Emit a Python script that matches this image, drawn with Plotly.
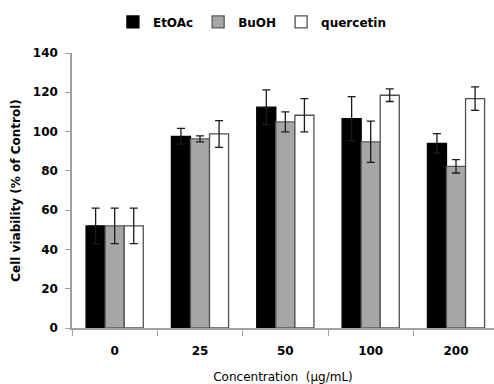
import plotly.graph_objects as go

categories = ["0", "25", "50", "100", "200"]
etoac = [52, 97.6, 112.4, 106.6, 94.0]
etoac_err = [9, 4, 8.8, 11.2, 5]
buoh = [52, 96.3, 104.9, 94.8, 82.3]
buoh_err = [9, 1.5, 5.1, 10.5, 3.4]
quercetin = [52, 98.8, 108.3, 118.5, 116.8]
quercetin_err = [9, 6.8, 8.5, 3.2, 6]
y_ticks = [0, 20, 40, 60, 80, 100, 120, 140]

fig = go.Figure()
series = [
    ("EtOAc", etoac, etoac_err, "#000000", "#000000"),
    ("BuOH", buoh, buoh_err, "#a6a6a6", "#5a5a5a"),
    ("quercetin", quercetin, quercetin_err, "#ffffff", "#505050"),
]
for name, vals, errs, fill, edge in series:
    fig.add_trace(go.Bar(
        name=name, x=categories, y=vals,
        marker=dict(color=fill, line=dict(color=edge, width=1.3)),
        error_y=dict(type="data", array=errs, visible=True,
                     color="#1a1a1a", thickness=1.3, width=4),
    ))

fig.update_layout(
    width=494, height=384,
    margin=dict(l=72, r=0, t=53, b=55.5, autoexpand=False),
    paper_bgcolor="white", plot_bgcolor="white",
    barmode="group", bargap=0.33, bargroupgap=0,
    font=dict(family="DejaVu Sans", color="#000000"),
    showlegend=True,
    legend=dict(orientation="h", xref="container", yref="container",
                x=0.51, xanchor="center", y=0.943, yanchor="middle",
                font=dict(size=12, family="DejaVu Sans", weight="bold"),
                itemwidth=30, tracegroupgap=0),
    xaxis=dict(
        type="category", range=[-0.5, 4.445], automargin=False,
        tickson="boundaries", ticks="outside", ticklen=6,
        tickcolor="#a0a0a0", showline=True, linecolor="#a0a0a0",
        linewidth=1.5, showgrid=False, zeroline=False,
        tickfont=dict(size=12, family="DejaVu Sans", weight="bold"),
        ticklabelstandoff=11,
        title=dict(text="Concentration  (µg/mL)", standoff=16,
                   font=dict(size=12, family="DejaVu Sans")),
    ),
    yaxis=dict(
        range=[0, 140], tickvals=y_ticks, ticks="outside", ticklen=5,
        tickcolor="#a0a0a0", showline=True, linecolor="#a0a0a0",
        linewidth=1.5, showgrid=False, zeroline=False, automargin=False,
        tickfont=dict(size=12, family="DejaVu Sans", weight="bold"),
        ticklabelstandoff=5,
        title=dict(text="Cell viability (% of Control)", standoff=10,
                   font=dict(size=12, family="DejaVu Sans", weight="bold")),
    ),
)

fig.write_html(
    "out.html",
    config={"displayModeBar": False},
    post_script="document.body.style.margin='0';document.body.style.overflow='hidden';",
)
